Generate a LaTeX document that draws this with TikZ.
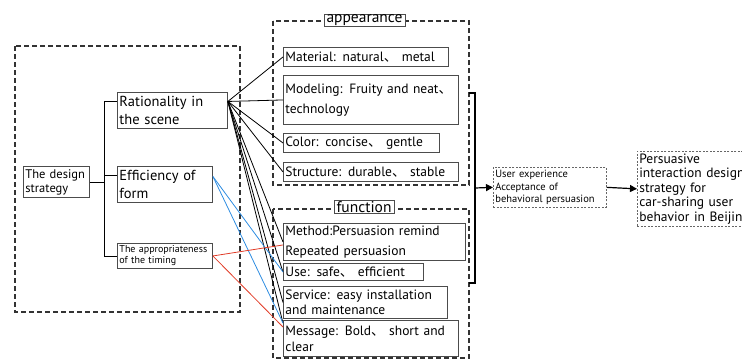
\documentclass[tikz,border=0pt]{standalone}
\usepackage{fontspec}
\setmainfont{PT Sans}
\newfontfamily\cjk{Noto Sans CJK SC}
\usetikzlibrary{arrows.meta}
\newcommand{\dun}{{\cjk 、}}
\definecolor{linkblue}{RGB}{45,140,225}
\definecolor{linkred}{RGB}{225,60,40}
\begin{document}
\begin{tikzpicture}[x=1pt,y=-1pt,
        box/.style={draw=black!70, line width=0.9pt, anchor=north west, inner sep=2pt, align=left},
        grp/.style={draw=black!80, line width=1.2pt, dash pattern=on 5pt off 3pt},
        grptitle/.style={box, anchor=center, fill=white, align=center, inner xsep=2.5pt, inner ysep=0.5pt},
        note/.style={box, draw=black!60, line width=0.7pt, dash pattern=on 2pt off 1.5pt},
        link/.style={line width=0.8pt},
        flow/.style={line width=1.2pt, -{Triangle[length=7pt,width=7pt]}}]
        \useasboundingbox (0,0) rectangle (742,360);
        \clip (0,0) rectangle (742,360);

        % Estrategia de diseño
        \draw[grp] (15,46) rectangle (240,312);
        \node[box, text width=62pt, minimum height=31pt, font=\fontsize{12.5}{14}\selectfont] (strategy) at (23,166) {The design\\strategy};
        \node[box, text width=106pt, minimum height=36pt, font=\fontsize{14.5}{17.5}\selectfont] (rational) at (117,92) {Rationality in\\the scene};
        \node[box, text width=91pt, minimum height=36pt, font=\fontsize{14.5}{17.5}\selectfont] (effic) at (117,166) {Efficiency of\\form};
        \node[box, text width=91pt, minimum height=25pt, font=\fontsize{10}{11}\selectfont] (timing) at (117,243) {The appropriateness\\of the timing};
        \coordinate (trunk) at (104,0);
        \draw[link] (strategy.east) -- (strategy.east -| trunk);
        \draw[link] ([yshift=9pt]rational.west) -| (timing.west -| trunk) -- (timing.west);
        \draw[link] ([yshift=9pt]effic.west) -- ([yshift=9pt]effic.west -| trunk);

        % Apariencia
        \draw[grp] (273,21) rectangle (469,185);
        \node[grptitle, font=\fontsize{15.5}{17}\selectfont] (appear) at (364.5,20.5) {appearance};
        \node[box, text width=161pt, minimum height=19pt, font=\fontsize{13.5}{16}\selectfont] (material) at (283,47) {Material: natural\dun{} metal};
        \node[box, text width=171pt, minimum height=49pt, font=\fontsize{13.5}{20}\selectfont] (modeling) at (283,75) {Modeling: Fruity and neat\dun\\technology};
        \node[box, text width=152pt, minimum height=19pt, font=\fontsize{13.5}{16}\selectfont] (color) at (283,133) {Color: concise\dun{} gentle};
        \node[box, text width=171pt, minimum height=19pt, font=\fontsize{13.5}{16}\selectfont] (structure) at (283,162) {Structure: durable\dun{} stable};

        % Función
        \draw[grp] (273,209) rectangle (469,358);
        \node[grptitle, font=\fontsize{15.5}{17}\selectfont] (funct) at (364,207) {function};
        \node[box, text width=178pt, minimum height=37pt, font=\fontsize{13.5}{20}\selectfont] (method) at (283,223) {Method:Persuasion remind\\Repeated persuasion};
        \node[box, text width=136pt, minimum height=17pt, font=\fontsize{13.5}{16}\selectfont] (use) at (283,263) {Use: safe\dun{} efficient};
        \node[box, text width=160pt, minimum height=32pt, font=\fontsize{13.5}{15}\selectfont] (service) at (283,286) {Service: easy installation\\and maintenance};
        \node[box, text width=171pt, minimum height=36pt, font=\fontsize{13.5}{16}\selectfont] (message) at (283,320) {Message: Bold\dun{} short and\\clear};

        % Conexiones
        \foreach \target in {material,modeling,color,structure,method,use,service}
            \draw[link] ([yshift=9pt]rational.east) -- (\target.west);
        \draw[link] ([yshift=9pt]rational.east) -- ([yshift=-3pt]message.north west);
        \draw[link, linkblue] ([yshift=8pt]effic.east) -- (use.west);
        \draw[link, linkblue] ([yshift=8pt]effic.east) -- ([yshift=-3pt]message.north west);
        \draw[link, linkred] (timing.east) -- ([yshift=-3pt]method.west);
        \draw[link, linkred] (timing.east) -- ([yshift=-7pt]message.north west);

        % Resultado
        \node[note, text width=109pt, minimum height=40pt, font=\fontsize{10.5}{12.5}\selectfont] (ux) at (493,167) {User experience\\Acceptance of\\behavioral persuasion};
        \node[note, text width=120pt, minimum height=75pt, font=\fontsize{13.5}{14.5}\selectfont] (result) at (637,151) {Persuasive\\interaction design\\strategy for\\car-sharing user\\behavior in Beijing};
        \coordinate (brace) at (475,188);
        \draw[line width=1.1pt] (469,93) -- (475,93) -- (475,283) -- (469,283);
        \draw[flow] (brace) -- (ux.west);
        \draw[flow] (ux.east) -- (result.west);
    \end{tikzpicture}
\end{document}
